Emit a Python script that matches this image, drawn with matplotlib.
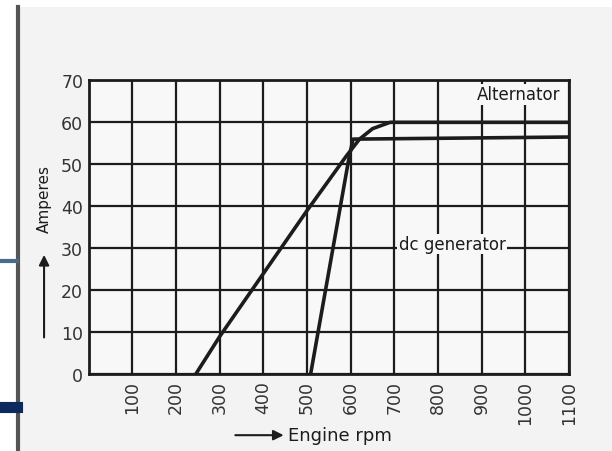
import matplotlib.pyplot as plt
from matplotlib.lines import Line2D
from matplotlib.patches import Rectangle

# readings (rpm, amperes)
alt_rpm = [245, 300, 400, 500, 590, 620, 650, 690, 1100]
alt_amp = [0, 9, 24, 39, 52, 56, 58.5, 60, 60]
dc_rpm = [508, 595, 605, 1100]
dc_amp = [0, 51, 56, 56.5]

xticks = [100, 200, 300, 400, 500, 600, 700, 800, 900, 1000, 1100]
yticks = [0, 10, 20, 30, 40, 50, 60, 70]

ink = '#1c1c1c'

fig = plt.figure(figsize=(6.12, 4.52), dpi=100, facecolor='#f3f3f3')

# white margin of the photo and the slide bars on the left
fig.add_artist(Rectangle((0, 0), 0.028, 1, transform=fig.transFigure, facecolor='white', edgecolor='none'))
fig.add_artist(Rectangle((0, 0.982), 1, 0.018, transform=fig.transFigure, facecolor='white', edgecolor='none'))
fig.add_artist(Line2D([0.03, 0.03], [0.0, 0.982], color='#555555', linewidth=3))
fig.add_artist(Line2D([0.0, 0.027], [0.42, 0.42], color='#4a6a8a', linewidth=3))
fig.add_artist(Line2D([0.0, 0.027], [0.097, 0.097], color='#0d2a5e', linewidth=8))

ax = fig.add_axes([0.145, 0.17, 0.785, 0.65])
ax.set_facecolor('#f8f8f8')

ax.set_xlim(0, 1100)
ax.set_ylim(0, 70)
ax.set_xticks(xticks)
ax.set_yticks(yticks)
ax.set_xticklabels([str(v) for v in xticks], rotation=90, fontsize=12.5, color='#333333')
ax.set_yticklabels([str(v) for v in yticks], fontsize=12.5, color='#333333')
ax.tick_params(length=0, pad=4)
ax.grid(True, color=ink, linewidth=1.6)
for s in ax.spines.values():
    s.set_linewidth(2)
    s.set_color(ink)

ax.plot(alt_rpm, alt_amp, color=ink, linewidth=2.6, solid_capstyle='round')
ax.plot(dc_rpm, dc_amp, color=ink, linewidth=2.6)

ax.text(1080, 64.5, 'Alternator', ha='right', va='bottom', fontsize=12, color=ink,
        bbox=dict(facecolor='#f8f8f8', edgecolor='none', pad=1))
ax.text(710, 31, 'dc generator', ha='left', va='center', fontsize=12, color=ink,
        bbox=dict(facecolor='#f8f8f8', edgecolor='none', pad=1))

# axis names with arrows as printed
fig.text(0.072, 0.56, 'Amperes', rotation=90, ha='center', va='center', fontsize=11, color=ink)
ax.annotate('', xy=(0.072, 0.44), xytext=(0.072, 0.245), xycoords='figure fraction',
            arrowprops=dict(arrowstyle='-|>', color=ink, lw=1.5, mutation_scale=15))
fig.text(0.47, 0.035, 'Engine rpm', ha='left', va='center', fontsize=13, color=ink)
ax.annotate('', xy=(0.468, 0.035), xytext=(0.38, 0.035), xycoords='figure fraction',
            arrowprops=dict(arrowstyle='-|>', color=ink, lw=1.5, mutation_scale=15))

plt.savefig('out.png', dpi=100, facecolor=fig.get_facecolor())
